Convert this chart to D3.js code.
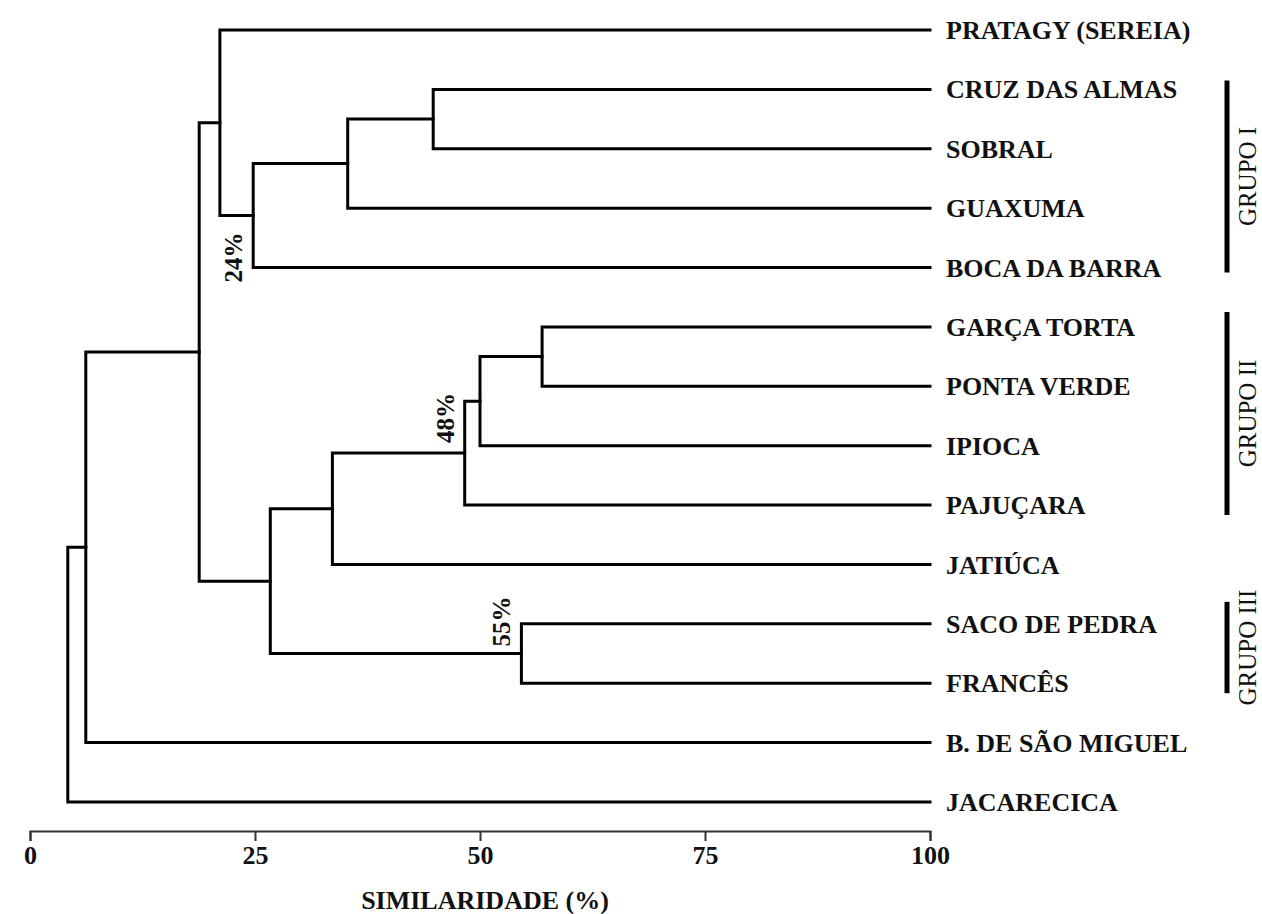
<!DOCTYPE html>
<html>
<head>
<meta charset="utf-8">
<script src="https://cdn.jsdelivr.net/npm/d3@7"></script>
<style>
    body { margin: 0; background: #fff; }
    svg { display: block; }
    text { font-family: "Liberation Serif", "Times New Roman", serif; }
</style>
</head>
<body>
<div id="chart"></div>
<script>

// leaves, top to bottom
var sites = [
    "PRATAGY (SEREIA)", "CRUZ DAS ALMAS", "SOBRAL", "GUAXUMA", "BOCA DA BARRA",
    "GARÇA TORTA", "PONTA VERDE", "IPIOCA", "PAJUÇARA", "JATIÚCA",
    "SACO DE PEDRA", "FRANCÊS", "B. DE SÃO MIGUEL", "JACARECICA"
];

// merges: [child a, child b, similarity %]; ids 0-13 are sites, new clusters get 14, 15, ...
var merges = [
    [5, 6, 56.9],      // 14
    [10, 11, 54.6],    // 15
    [14, 7, 50.0],     // 16
    [16, 8, 48.3],     // 17
    [1, 2, 44.8],      // 18
    [18, 3, 35.3],     // 19
    [17, 9, 33.6],     // 20
    [20, 15, 26.7],    // 21
    [19, 4, 24.8],     // 22
    [0, 22, 21.1],     // 23
    [23, 21, 18.8],    // 24
    [24, 12, 6.2],     // 25
    [25, 13, 4.2]      // 26
];

var axisTicks = [0, 25, 50, 75, 100];

// cut labels written beside a cluster
var cutLabels = [
    { text: "24%", node: 22 },
    { text: "48%", node: 17 },
    { text: "55%", node: 15 }
];

var groups = [
    { name: "GRUPO I", first: 1, last: 4 },
    { name: "GRUPO II", first: 5, last: 8 },
    { name: "GRUPO III", first: 10, last: 11 }
];

var width = 1262,
    height = 914;

var svg = d3.select("#chart").append("svg")
    .attr("width", width)
    .attr("height", height);

svg.append("rect").attr("width", width).attr("height", height).attr("fill", "#fff");

var x = d3.scaleLinear()
    .domain([0, 100])
    .range([30, 930]);

var y = d3.scaleLinear()
    .domain([0, sites.length - 1])
    .range([30, 802]);

// position of every node (leaf or cluster)
var nodes = sites.map(function(s, i) { return { sim: 100, y: y(i) }; });
merges.forEach(function(m) {
    nodes.push({ sim: m[2], y: (nodes[m[0]].y + nodes[m[1]].y) / 2, a: m[0], b: m[1] });
});

// bracket for each merge
var links = svg.append("g")
    .attr("fill", "none")
    .attr("stroke", "#000")
    .attr("stroke-width", 3)
    .attr("stroke-linejoin", "miter")
    .attr("stroke-linecap", "square");

links.selectAll("path").data(nodes.filter(function(d) { return d.a !== undefined; }))
    .enter().append("path")
    .attr("d", function(d) {
        var A = nodes[d.a], B = nodes[d.b];
        return "M" + x(A.sim) + "," + A.y +
               "H" + x(d.sim) +
               "V" + B.y +
               "H" + x(B.sim);
    });

// site names
svg.selectAll(".site").data(sites)
    .enter().append("text")
    .attr("class", "site")
    .attr("x", 946)
    .attr("y", function(d, i) { return y(i); })
    .attr("dy", "0.35em")
    .attr("font-size", 26)
    .attr("font-weight", "bold")
    .attr("fill", "#111")
    .text(function(d) { return d; });

// percentage labels, rotated, just left of the cluster line
var cutShift = { 22: 42, 17: -35, 15: -32 };   // offset from node centre
svg.selectAll(".cut").data(cutLabels)
    .enter().append("text")
    .attr("class", "cut")
    .attr("transform", function(d) {
        var n = nodes[d.node];
        return "translate(" + (x(n.sim) - 11) + "," + (n.y + cutShift[d.node]) + ") rotate(-90)";
    })
    .attr("text-anchor", "middle")
    .attr("font-size", 25)
    .attr("font-weight", "bold")
    .attr("fill", "#111")
    .text(function(d) { return d.text; });

// group bars and names
var barPad = [[-9, 5], [-15, 10], [-22, 10]];
var g = svg.selectAll(".group").data(groups)
    .enter().append("g")
    .attr("class", "group");

g.append("line")
    .attr("x1", 1227).attr("x2", 1227)
    .attr("y1", function(d, i) { return y(d.first) + barPad[i][0]; })
    .attr("y2", function(d, i) { return y(d.last) + barPad[i][1]; })
    .attr("stroke", "#000")
    .attr("stroke-width", 5);

g.append("text")
    .attr("transform", function(d, i) {
        var cy = (y(d.first) + barPad[i][0] + y(d.last) + barPad[i][1]) / 2;
        return "translate(1256," + cy + ") rotate(-90)";
    })
    .attr("text-anchor", "middle")
    .attr("font-size", 25)
    .attr("fill", "#111")
    .text(function(d) { return d.name; });

// axis
var axis = svg.append("g")
    .attr("transform", "translate(0,831)")
    .call(d3.axisBottom(x).tickValues(axisTicks).tickSize(10).tickPadding(5).tickFormat(d3.format("d")));

axis.select(".domain").attr("stroke", "#333").attr("stroke-width", 2);
axis.selectAll(".tick line").attr("stroke", "#333").attr("stroke-width", 2);
axis.selectAll(".tick text")
    .attr("font-family", "Liberation Serif")
    .attr("font-size", 26)
    .attr("font-weight", "bold")
    .attr("fill", "#111");

svg.append("text")
    .attr("x", 485)
    .attr("y", 909)
    .attr("text-anchor", "middle")
    .attr("font-size", 26)
    .attr("font-weight", "bold")
    .attr("fill", "#111")
    .text("SIMILARIDADE (%)");

</script>
</body>
</html>
